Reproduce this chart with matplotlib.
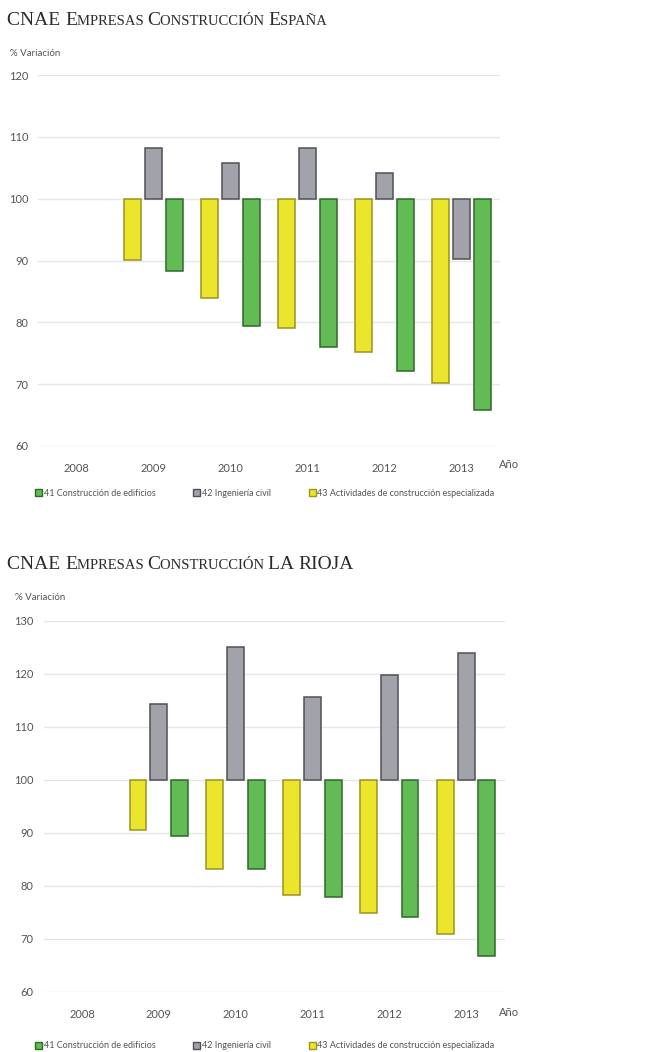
import numpy as np
import matplotlib
matplotlib.use("Agg")
import matplotlib.pyplot as plt
from matplotlib.patches import Patch

W, H = 670, 1052

years = ["2008", "2009", "2010", "2011", "2012", "2013"]

# Spain, index (base 100)
esp_41 = [100, 88.3, 79.4, 76.0, 72.1, 65.9]
esp_42 = [100, 108.2, 105.8, 108.2, 104.2, 90.2]
esp_43 = [100, 90.1, 84.0, 79.1, 75.2, 70.2]

# La Rioja
rio_41 = [100, 89.5, 83.1, 77.9, 74.1, 66.8]
rio_42 = [100, 114.3, 125.0, 115.6, 119.8, 124.0]
rio_43 = [100, 90.6, 83.2, 78.2, 74.8, 71.0]

labels = ["41 Construcción de edificios", "42 Ingeniería civil",
          "43 Actividades de construcción especializada"]

GREEN, GREEN_E = "#62bb55", "#2e6a28"
GREY, GREY_E = "#a2a2aa", "#505058"
YELLOW, YELLOW_E = "#ebe52c", "#9a9420"
TXT = "#555555"

plt.rcParams["font.family"] = ["Lato", "DejaVu Sans"]


def fx(px):
    return px / W


def fy(py):
    return 1 - py / H


def smallcaps(fig, x, y, words, big=14, small=10.5):
    # words: list of (text, all_caps)
    r = fig.canvas.get_renderer()
    cur = x
    for i, (w, caps) in enumerate(words):
        if caps:
            parts = [(w, big)]
        else:
            parts = [(w[0], big), (w[1:].upper(), small)]
        if i < len(words) - 1:
            parts[-1] = (parts[-1][0] + " ", parts[-1][1])
        for s, size in parts:
            t = fig.text(cur, y, s, fontsize=size, family="Liberation Serif",
                         color="#2b2b2b", va="baseline", ha="left")
            bb = t.get_window_extent(renderer=r)
            cur += bb.width / (W)


def draw_panel(fig, rect, s41, s42, s43, ylim, yticks):
    ax = fig.add_axes(rect)
    x = np.arange(len(years))
    off, bw = 0.27, 0.22
    for vals, dx, fc, ec in [(s43, -off, YELLOW, YELLOW_E),
                             (s42, 0, GREY, GREY_E),
                             (s41, off, GREEN, GREEN_E)]:
        h = np.array(vals) - 100
        lw = [0 if v == 0 else 1.1 for v in h]
        ax.bar(x + dx, h, bw, bottom=100, color=fc, edgecolor=ec,
               linewidth=lw, zorder=3)
    ax.set_xlim(-0.5, len(years) - 0.5)
    ax.set_ylim(*ylim)
    ax.set_yticks(yticks)
    ax.set_xticks(x)
    ax.set_xticklabels(years)
    ax.grid(axis="y", color="#e6e6e6", linewidth=1, zorder=0)
    for s in ax.spines.values():
        s.set_visible(False)
    ax.tick_params(axis="both", length=0, labelsize=8, colors=TXT)
    ax.tick_params(axis="y", pad=7)
    ax.tick_params(axis="x", pad=12)
    return ax


fig = plt.figure(figsize=(W / 100, H / 100), dpi=100)
fig.patch.set_facecolor("white")

# top panel: Spain
ax1 = draw_panel(fig, [fx(38), fy(446), fx(500 - 38), (446 - 75) / H],
                 esp_41, esp_42, esp_43, (60, 120), range(60, 121, 10))
# bottom panel: La Rioja
ax2 = draw_panel(fig, [fx(43.5), fy(992), fx(504.5 - 43.5), (992 - 620.7) / H],
                 rio_41, rio_42, rio_43, (60, 130), range(60, 131, 10))

smallcaps(fig, fx(7), fy(25), [("CNAE", True), ("Empresas", False),
                              ("Construcción", False), ("España", False)])
smallcaps(fig, fx(7), fy(569), [("CNAE", True), ("Empresas", False),
                               ("Construcción", False), ("LA", True), ("RIOJA", True)])

fig.text(fx(10), fy(53), "% Variación", fontsize=7, color=TXT, va="center")
fig.text(fx(15), fy(597), "% Variación", fontsize=7, color=TXT, va="center")
fig.text(fx(499), fy(465), "Año", fontsize=8, color=TXT, va="center")
fig.text(fx(499), fy(1013), "Año", fontsize=8, color=TXT, va="center")

handles = [Patch(facecolor=GREEN, edgecolor=GREEN_E),
           Patch(facecolor=GREY, edgecolor=GREY_E),
           Patch(facecolor=YELLOW, edgecolor=YELLOW_E)]
for ax, ypx in [(ax1, 493), (ax2, 1046)]:
    fig.legend(handles, labels, loc="center left",
               bbox_to_anchor=(fx(35), fy(ypx)), ncol=3, frameon=False,
               fontsize=6.5, labelcolor=TXT, handlelength=0.8, handleheight=0.8,
               handletextpad=0.15, columnspacing=4.2, borderpad=0,
               borderaxespad=0)

fig.savefig("out.png", dpi=100, facecolor="white")
